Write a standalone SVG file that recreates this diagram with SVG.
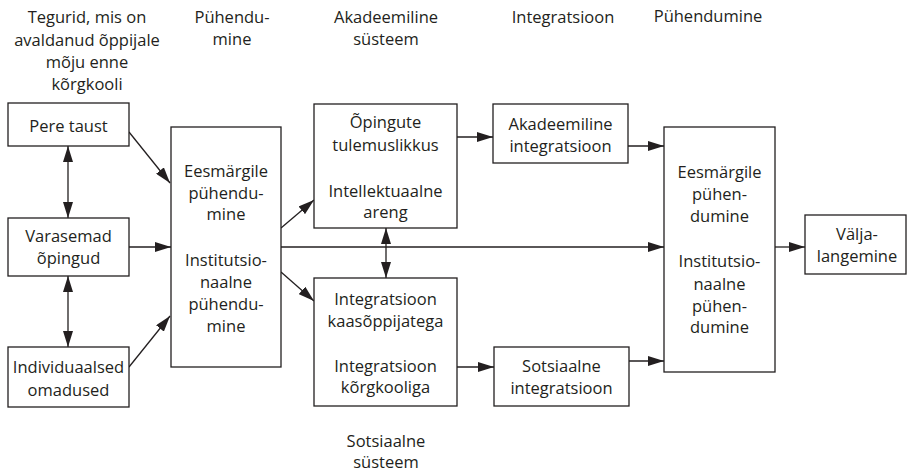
<svg xmlns="http://www.w3.org/2000/svg" width="910" height="473" viewBox="0 0 910 473">
<style>
text{font-family:"Open Sans","Liberation Sans",sans-serif;font-size:16.5px;fill:#231f20;text-anchor:middle}
rect.box{fill:#fff;stroke:#231f20;stroke-width:1.3}
#connectors line{stroke:#231f20;stroke-width:1.3;fill:none;marker-end:url(#ah)}
#connectors line.both{marker-start:url(#ah)}
</style>
<defs>
<marker id="ah" markerUnits="userSpaceOnUse" markerWidth="16" markerHeight="10" refX="16" refY="5" orient="auto-start-reverse" viewBox="0 0 16 10">
<path d="M0,0 L16,5 L0,10 z" fill="#231f20"/>
</marker>
</defs>
<rect x="0" y="0" width="910" height="473" fill="#fff"/>
<g id="labels">
<text x="87" y="23">Tegurid, mis on</text>
<text x="87" y="46">avaldanud õppijale</text>
<text x="87" y="68">mõju enne</text>
<text x="87" y="90">kõrgkooli</text>
<text x="232" y="23">Pühendu-</text>
<text x="232" y="45">mine</text>
<text x="386" y="23">Akadeemiline</text>
<text x="386" y="45">süsteem</text>
<text x="563" y="23">Integratsioon</text>
<text x="708" y="22">Pühendumine</text>
<text x="386" y="447">Sotsiaalne</text>
<text x="386" y="468">süsteem</text>
</g>
<g id="connectors">
<line x1="129" y1="132" x2="170" y2="183"/>
<line class="both" x1="68" y1="146" x2="68" y2="218"/>
<line x1="129" y1="247" x2="171" y2="247"/>
<line class="both" x1="68" y1="276" x2="68" y2="347"/>
<line x1="129" y1="367" x2="170" y2="316"/>
<line x1="281" y1="228" x2="314" y2="200"/>
<line x1="281" y1="272" x2="314" y2="301"/>
<line x1="281" y1="247" x2="664" y2="247"/>
<line class="both" x1="386" y1="228" x2="386" y2="278"/>
<line x1="457" y1="137" x2="493" y2="137"/>
<line x1="628" y1="146" x2="664" y2="146"/>
<line x1="457" y1="367" x2="494" y2="367"/>
<line x1="629" y1="361" x2="664" y2="361"/>
<line x1="775" y1="247" x2="805" y2="247"/>
</g>
<g id="pere">
<rect class="box" x="8" y="103" width="121" height="43"/>
<text x="68.5" y="132">Pere taust</text>
</g>
<g id="varasemad">
<rect class="box" x="8" y="218" width="121" height="58"/>
<text x="68.5" y="242">Varasemad</text>
<text x="68.5" y="264">õpingud</text>
</g>
<g id="individuaalsed">
<rect class="box" x="8" y="347" width="121" height="60"/>
<text x="68.5" y="373">Individuaalsed</text>
<text x="68.5" y="396">omadused</text>
</g>
<g id="puhendumine1">
<rect class="box" x="171" y="127" width="110" height="240"/>
<text x="226" y="177">Eesmärgile</text>
<text x="226" y="199">pühendu-</text>
<text x="226" y="220">mine</text>
<text x="226" y="266">Institutsio-</text>
<text x="226" y="288">naalne</text>
<text x="226" y="310">pühendu-</text>
<text x="226" y="332">mine</text>
</g>
<g id="opingute">
<rect class="box" x="314" y="104" width="143" height="124"/>
<text x="385.5" y="128">Õpingute</text>
<text x="385.5" y="151">tulemuslikkus</text>
<text x="385.5" y="197">Intellektuaalne</text>
<text x="385.5" y="218">areng</text>
</g>
<g id="integratsioon">
<rect class="box" x="314" y="278" width="143" height="128"/>
<text x="385.5" y="305">Integratsioon</text>
<text x="385.5" y="327">kaasõppijatega</text>
<text x="385.5" y="372">Integratsioon</text>
<text x="385.5" y="393">kõrgkooliga</text>
</g>
<g id="akadint">
<rect class="box" x="493" y="104" width="135" height="59"/>
<text x="560.5" y="130">Akadeemiline</text>
<text x="560.5" y="152">integratsioon</text>
</g>
<g id="sotsint">
<rect class="box" x="494" y="347" width="135" height="59"/>
<text x="561.5" y="372">Sotsiaalne</text>
<text x="561.5" y="394">integratsioon</text>
</g>
<g id="puhendumine2">
<rect class="box" x="664" y="127" width="111" height="245"/>
<text x="719.5" y="178">Eesmärgile</text>
<text x="719.5" y="200">pühen-</text>
<text x="719.5" y="222">dumine</text>
<text x="719.5" y="267">Institutsio-</text>
<text x="719.5" y="290">naalne</text>
<text x="719.5" y="312">pühen-</text>
<text x="719.5" y="333">dumine</text>
</g>
<g id="valja">
<rect class="box" x="805" y="215" width="101" height="59"/>
<text x="857" y="240">Välja-</text>
<text x="857" y="262">langemine</text>
</g>
</svg>
